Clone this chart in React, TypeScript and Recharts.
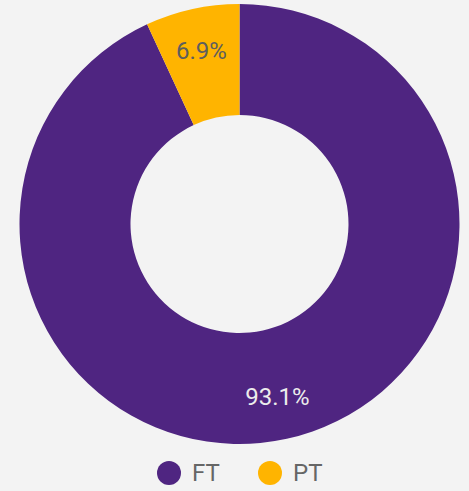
import React from 'react';
import { PieChart, Pie, Cell, Legend } from 'recharts';

const categories = ['FT', 'PT'];
const shares = [93.1, 6.9];
const colors = ['#4f2581', '#ffb400'];
const labelColors = ['#ececec', '#5e5e5e'];

const data = categories.map((name, i) => ({ name, value: shares[i] }));

const RADIAN = Math.PI / 180;

const renderLabel = (props: any) => {
  const { cx, cy, midAngle, innerRadius, outerRadius, index, value } = props;
  const r = innerRadius + (outerRadius - innerRadius) * 0.61;
  const x = cx + r * Math.cos(-midAngle * RADIAN);
  const y = cy + r * Math.sin(-midAngle * RADIAN);
  return (
    <text
      x={x}
      y={y}
      fill={labelColors[index]}
      textAnchor="middle"
      dominantBaseline="central"
      fontSize={24}
      fontFamily="Roboto"
    >
      {value.toFixed(1)}%
    </text>
  );
};

const legendLeft = [157, 258];

const renderLegend = () => (
  <div style={{ position: 'relative', height: 30, fontFamily: 'Roboto', fontSize: 24, color: '#666' }}>
    {categories.map((c, i) => (
      <div key={c} style={{ position: 'absolute', left: legendLeft[i], top: 0, display: 'flex', alignItems: 'center', height: 30 }}>
        <svg width={24} height={24} style={{ marginRight: 11 }}>
          <circle cx={12} cy={12} r={12} fill={colors[i]} />
        </svg>
        <span style={{ lineHeight: '30px' }}>{c}</span>
      </div>
    ))}
  </div>
);

const App = () => {
  return (
    <div style={{ position: 'absolute', left: 0, top: 0, width: 469, height: 491, background: '#f3f3f3' }}>
      <PieChart width={469} height={491} margin={{ top: 0, right: 0, bottom: 0, left: 0 }}>
        <Pie
          data={data}
          dataKey="value"
          nameKey="name"
          cx={239.5}
          cy={224}
          innerRadius={109}
          outerRadius={220}
          startAngle={90}
          endAngle={-270}
          stroke="none"
          label={renderLabel}
          labelLine={false}
          isAnimationActive={false}
        >
          {data.map((d, i) => (
            <Cell key={d.name} fill={colors[i]} />
          ))}
        </Pie>
        <Legend content={renderLegend} wrapperStyle={{ top: 458, left: 0, width: 469 }} />
      </PieChart>
    </div>
  );
};

export default App;
